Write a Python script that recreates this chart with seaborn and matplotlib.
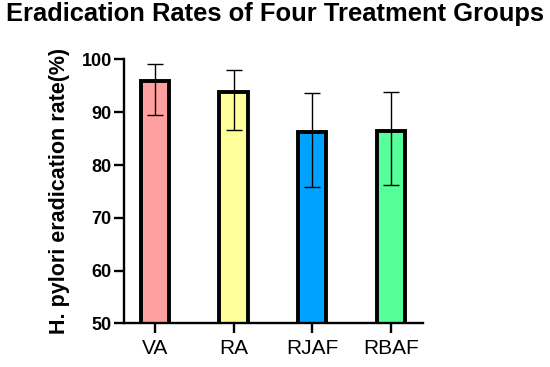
import numpy as np
import pandas as pd
import matplotlib
matplotlib.use("Agg")
import matplotlib.pyplot as plt
import seaborn as sns

# -----------------------------
# Data
# -----------------------------
groups = ["VA", "RA", "RJAF", "RBAF"]
rates = [96.0, 93.8, 86.3, 86.5]
ci_low = [89.4, 86.6, 75.9, 76.3]
ci_high = [99.2, 98.0, 93.7, 93.8]
colors = ["#FFA0A0", "#FFFF99", "#00A2FF", "#55FF99"]

df = pd.DataFrame({"group": groups, "rate": rates})

sns.set_style("ticks")
plt.rcParams["font.family"] = ["Liberation Sans", "DejaVu Sans"]
plt.rcParams["text.color"] = "black"
plt.rcParams["axes.labelcolor"] = "black"
plt.rcParams["xtick.color"] = "black"
plt.rcParams["ytick.color"] = "black"
plt.rcParams["axes.edgecolor"] = "black"

fig = plt.figure(figsize=(5.5, 3.67), dpi=100)
ax = fig.add_axes([0.226, 0.119, 0.543, 0.719])

sns.barplot(data=df, x="group", y="rate", hue="group", palette=colors,
            saturation=1, legend=False, width=0.36, edgecolor="black",
            linewidth=2.8, errorbar=None, ax=ax)

# asymmetric error bars
yerr = np.array([np.array(rates) - np.array(ci_low),
                 np.array(ci_high) - np.array(rates)])
ax.errorbar(groups, rates, yerr=yerr, fmt="none", ecolor="black",
            elinewidth=1.0, capsize=6, capthick=1.0)

ax.set_ylim(50, 100)
ax.set_xlim(-0.39, 3.41)
ax.set_yticks([50, 60, 70, 80, 90, 100])
ax.set_xlabel("")
ax.set_ylabel("H. pylori eradication rate(%)", fontsize=15.5, fontweight="bold",
              labelpad=8)

for s in ["top", "right"]:
    ax.spines[s].set_visible(False)
for s in ["left", "bottom"]:
    ax.spines[s].set_linewidth(1.7)

ax.tick_params(axis="y", length=7.5, width=1.7, labelsize=13, pad=1.5)
ax.tick_params(axis="x", length=7.5, width=1.7, labelsize=15, pad=4)
for lab in ax.get_yticklabels():
    lab.set_fontweight("bold")

fig.suptitle("Eradication Rates of Four Treatment Groups", x=0.5, y=0.995,
             va="top", fontsize=18.4, fontweight="bold")

fig.savefig("out.png", dpi=100)
